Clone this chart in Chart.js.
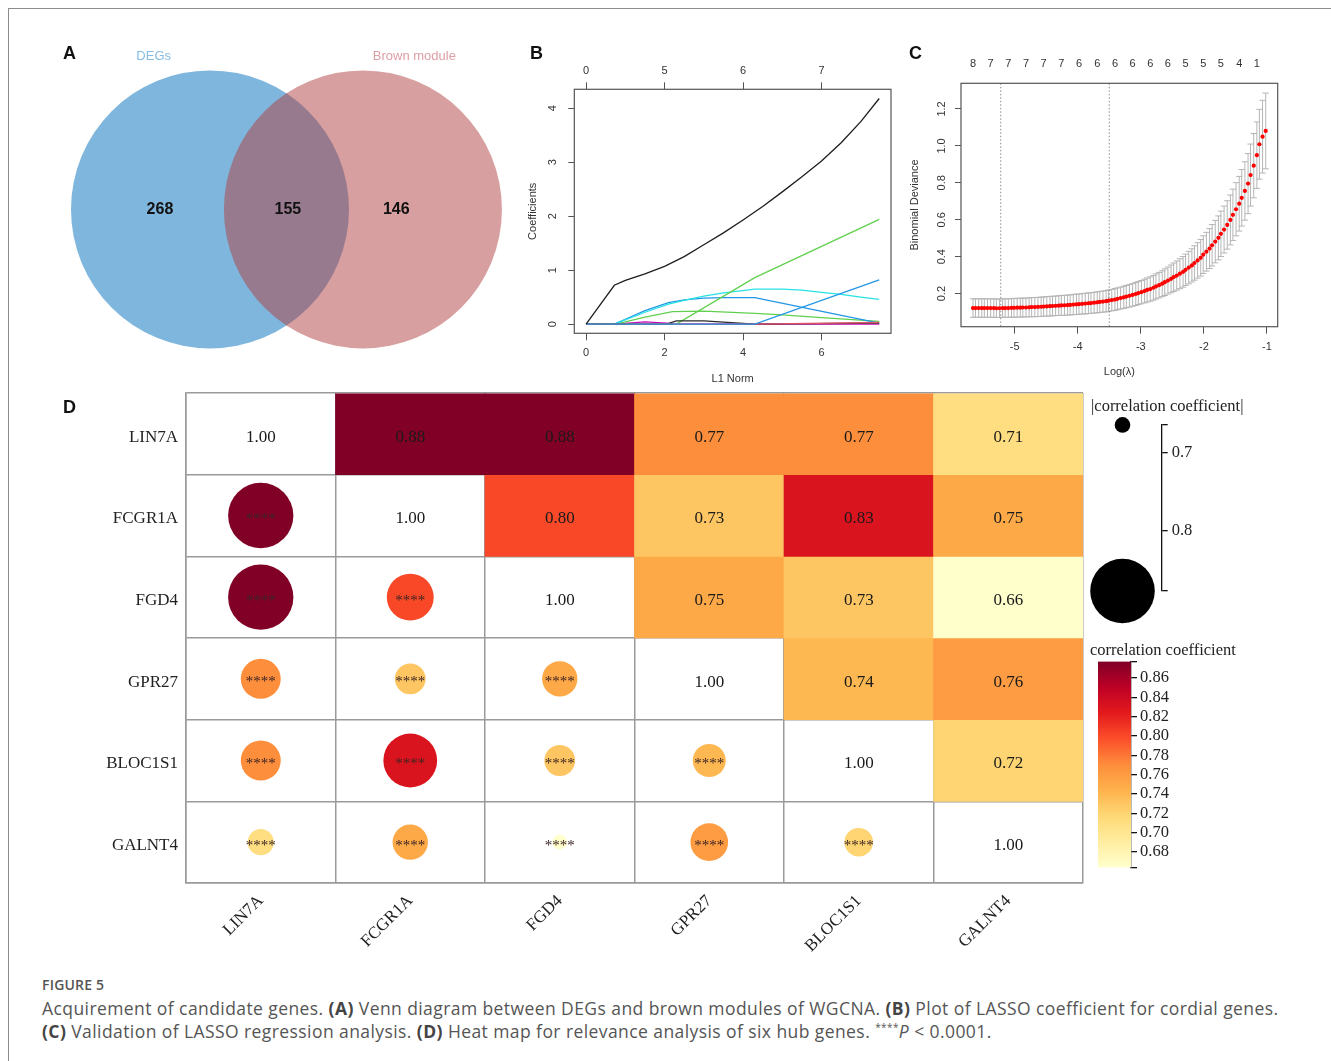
<!DOCTYPE html>
<html>
<head>
<meta charset="utf-8">
<title>Figure 5</title>
<script src="https://cdn.jsdelivr.net/npm/chart.js@4.4.1/dist/chart.umd.min.js"></script>
<style>
  html, body { margin: 0; padding: 0; background: #fff; }
  #page { position: relative; width: 1331px; height: 1061px; overflow: hidden; background: #fff; }
  .frame { position: absolute; left: 8px; top: 8px; width: 1400px; height: 1100px;
           border-top: 1.5px solid #8d8d8d; border-left: 1.5px solid #8d8d8d; }
  canvas { position: absolute; }
  .panel { position: absolute; font-family: 'Liberation Sans', Arial, sans-serif; font-weight: bold;
           font-size: 18px; line-height: 22px; color: #111; }
  .key { position: absolute; font-family: 'Liberation Serif', 'Times New Roman', serif; font-size: 16.5px;
         line-height: 20px; color: #222; white-space: nowrap; }
  .cap { position: absolute; left: 42px; font-family: 'Open Sans', 'Noto Sans', sans-serif; color: #555;
         white-space: nowrap; }
  .cap b { color: #444; font-weight: 700; }
  .cap sup { font-size: 10px; line-height: 0; }
</style>
</head>
<body>
<div id="page">
  <div class="frame"></div>

  <canvas id="venn" width="480" height="340" style="left:40px;top:40px;"></canvas>
  <canvas id="lasso" width="400" height="360" style="left:505px;top:40px;"></canvas>
  <canvas id="cv" width="420" height="360" style="left:900px;top:40px;"></canvas>
  <canvas id="heat" width="1030" height="580" style="left:60px;top:385px;"></canvas>
  <canvas id="sizeKey" width="170" height="240" style="left:1080px;top:400px;"></canvas>
  <canvas id="colourKey" width="120" height="235" style="left:1088px;top:650px;"></canvas>

  <div class="panel" style="left:63px;top:42px;">A</div>
  <div class="panel" style="left:530px;top:42px;">B</div>
  <div class="panel" style="left:909px;top:42px;">C</div>
  <div class="panel" style="left:63px;top:396px;">D</div>

  <div class="key" style="left:1091px;top:396px;">|correlation coefficient|</div>
  <div class="key" style="left:1090px;top:640px;">correlation coefficient</div>

  <div class="cap" style="top:976px;font-size:14px;line-height:18px;font-weight:600;letter-spacing:0.2px;">FIGURE 5</div>
  <div class="cap" style="top:997px;font-size:17.5px;line-height:22px;letter-spacing:0.42px;">Acquirement of candidate genes. <b>(A)</b> Venn diagram between DEGs and brown modules of WGCNA. <b>(B)</b> Plot of LASSO coefficient for cordial genes.</div>
  <div class="cap" style="top:1020px;font-size:17.5px;line-height:22px;letter-spacing:0.42px;"><b>(C)</b> Validation of LASSO regression analysis. <b>(D)</b> Heat map for relevance analysis of six hub genes. <sup>****</sup><i>P</i> &lt; 0.0001.</div>
</div>

<script>
// ---------------------------------------------------------------- data
// (A) Venn diagram
const vennSets = ['DEGs', 'Brown module'];
const vennCounts = [268, 155, 146];            // DEGs only, shared, Brown module only

// (B) LASSO coefficient paths against L1 norm
const l1Ticks = [0, 2, 4, 6];
const dfTop = ['0', '5', '6', '7'];
const coefTicks = [0, 1, 2, 3, 4];
const path1X = [0, 0.72, 1.0, 1.5, 2.0, 2.5, 3.0, 3.5, 4.0, 4.5, 5.0, 5.5, 6.0, 6.5, 7.0, 7.47];
const path1Y = [0, 0.72, 0.81, 0.93, 1.07, 1.25, 1.47, 1.69, 1.93, 2.18, 2.45, 2.73, 3.02, 3.36, 3.75, 4.18];
const path2X = [0, 2.3, 4.3, 7.47];
const path2Y = [0, 0, 0.86, 1.94];
const path3X = [0, 0.72, 1.0, 1.5, 2.1, 2.5, 3.0, 3.5, 4.3, 5.0, 5.5, 6.0, 6.5, 7.0, 7.47];
const path3Y = [0, 0, 0.08, 0.22, 0.37, 0.44, 0.52, 0.58, 0.65, 0.65, 0.63, 0.59, 0.55, 0.50, 0.46];
const path4X = [0, 0.72, 1.0, 1.5, 2.1, 2.5, 3.0, 3.5, 4.3, 7.47];
const path4Y = [0, 0, 0.09, 0.25, 0.40, 0.45, 0.48, 0.49, 0.49, 0.02];
const path5X = [0, 4.3, 7.47];
const path5Y = [0, 0, 0.82];
const path6X = [0, 0.72, 1.0, 1.5, 2.2, 3.0, 4.3, 5.0, 6.0, 7.47];
const path6Y = [0, 0, 0.04, 0.13, 0.23, 0.24, 0.20, 0.17, 0.12, 0.05];
const path7X = [0, 2.05, 2.3, 3.0, 4.3, 7.47];
const path7Y = [0, 0, 0.06, 0.06, 0.0, 0.02];
const path8X = [0, 0.72, 1.5, 2.05, 2.3, 7.47];
const path8Y = [0, 0, 0.04, 0.02, 0, 0];
const path9X = [0, 4.3, 7.47];
const path9Y = [0, 0, 0.03];

// (C) cross-validated binomial deviance
const logLambda = [
  -5.66,-5.62,-5.57,-5.52,-5.48,-5.43,-5.38,-5.33,-5.29,-5.24,
  -5.19,-5.15,-5.10,-5.05,-5.01,-4.96,-4.91,-4.87,-4.82,-4.77,
  -4.73,-4.68,-4.63,-4.58,-4.54,-4.49,-4.44,-4.40,-4.35,-4.30,
  -4.26,-4.21,-4.16,-4.12,-4.07,-4.02,-3.98,-3.93,-3.88,-3.83,
  -3.79,-3.74,-3.69,-3.65,-3.60,-3.55,-3.51,-3.46,-3.41,-3.37,
  -3.32,-3.27,-3.23,-3.18,-3.13,-3.08,-3.04,-2.99,-2.94,-2.90,
  -2.85,-2.80,-2.76,-2.71,-2.66,-2.62,-2.57,-2.52,-2.48,-2.43,
  -2.38,-2.33,-2.29,-2.24,-2.19,-2.15,-2.10,-2.05,-2.01,-1.96,
  -1.91,-1.87,-1.82,-1.77,-1.73,-1.68,-1.63,-1.58,-1.54,-1.49,
  -1.44,-1.40,-1.35,-1.30,-1.26,-1.21,-1.16,-1.12,-1.07,-1.02];
const cvMean = [
  0.122,0.122,0.122,0.122,0.122,0.122,0.122,0.122,0.121,0.121,
  0.122,0.122,0.122,0.123,0.123,0.124,0.124,0.125,0.125,0.126,
  0.127,0.127,0.128,0.129,0.130,0.131,0.132,0.133,0.134,0.135,
  0.136,0.137,0.138,0.139,0.141,0.142,0.143,0.145,0.146,0.148,
  0.149,0.151,0.153,0.155,0.157,0.159,0.162,0.165,0.168,0.172,
  0.176,0.180,0.184,0.188,0.193,0.198,0.203,0.208,0.214,0.220,
  0.225,0.232,0.239,0.246,0.254,0.262,0.271,0.280,0.289,0.298,
  0.308,0.318,0.329,0.341,0.353,0.366,0.380,0.394,0.411,0.427,
  0.444,0.462,0.482,0.502,0.524,0.547,0.572,0.599,0.627,0.657,
  0.687,0.719,0.756,0.796,0.842,0.893,0.950,1.009,1.050,1.081];
const cvSe = [
  0.050,0.050,0.050,0.050,0.050,0.050,0.050,0.050,0.050,0.050,
  0.050,0.050,0.050,0.050,0.051,0.051,0.051,0.051,0.051,0.051,
  0.052,0.052,0.052,0.052,0.052,0.053,0.053,0.053,0.053,0.053,
  0.054,0.054,0.054,0.054,0.055,0.055,0.055,0.055,0.056,0.056,
  0.056,0.056,0.057,0.057,0.057,0.058,0.058,0.058,0.059,0.059,
  0.059,0.060,0.060,0.061,0.061,0.062,0.062,0.063,0.064,0.065,
  0.066,0.067,0.068,0.069,0.070,0.072,0.073,0.075,0.077,0.079,
  0.081,0.083,0.085,0.088,0.090,0.093,0.096,0.099,0.102,0.105,
  0.108,0.112,0.115,0.119,0.123,0.127,0.131,0.135,0.139,0.144,
  0.148,0.153,0.158,0.163,0.168,0.174,0.180,0.189,0.197,0.205];
const cvXTicks = [-5, -4, -3, -2, -1];
const cvYTicks = [0.2, 0.4, 0.6, 0.8, 1.0, 1.2];
const cvDfAt = [-5.66,-5.38,-5.10,-4.82,-4.54,-4.26,-3.98,-3.69,-3.41,-3.13,-2.85,-2.57,-2.29,-2.01,-1.73,-1.44,-1.16];
const cvDfLabels = ['8','7','7','7','7','7','6','6','6','6','6','6','5','5','5','4','1'];
const lambdaMinLog = -5.22;
const lambda1seLog = -3.50;

// (D) correlation among the six hub genes
const genes = ['LIN7A', 'FCGR1A', 'FGD4', 'GPR27', 'BLOC1S1', 'GALNT4'];
const corLIN7A   = [1.00, 0.88, 0.88, 0.77, 0.77, 0.71];
const corFCGR1A  = [0.88, 1.00, 0.80, 0.73, 0.83, 0.75];
const corFGD4    = [0.88, 0.80, 1.00, 0.75, 0.73, 0.66];
const corGPR27   = [0.77, 0.73, 0.75, 1.00, 0.74, 0.76];
const corBLOC1S1 = [0.77, 0.83, 0.73, 0.74, 1.00, 0.72];
const corGALNT4  = [0.71, 0.75, 0.66, 0.76, 0.72, 1.00];
const sigMark = '****';
const corLimits = [0.664, 0.877];
const sizeKeyTicks = [0.7, 0.8];
const colourKeyTicks = [0.68, 0.70, 0.72, 0.74, 0.76, 0.78, 0.80, 0.82, 0.84, 0.86];

// ---------------------------------------------------------------- shared setup
const SANS = "'Liberation Sans', Arial, sans-serif";
const SERIF = "'Liberation Serif', 'Times New Roman', serif";
Chart.defaults.animation = false;
Chart.defaults.events = [];
Chart.defaults.plugins.legend.display = false;
Chart.defaults.plugins.tooltip.enabled = false;
Chart.defaults.font.family = SANS;
Chart.defaults.color = '#333';
Chart.defaults.layout.autoPadding = false;

const fixedTicks = values => scale => { scale.ticks = values.map(v => ({ value: v })); };
// pin an axis to a fixed thickness and stop it from asking for extra room
const pinAxis = (dim, size) => s => {
  s[dim] = size;
  s.paddingLeft = s.paddingRight = s.paddingTop = s.paddingBottom = 0;
};

// R-style frame around the plot region plus y labels written along the axis
const rBox = {
  id: 'rBox',
  afterDraw(chart, args, o) {
    const { ctx, chartArea: a } = chart;
    const ys = chart.scales.y;
    ctx.save();
    ctx.strokeStyle = '#555';
    ctx.lineWidth = 1.2;
    ctx.strokeRect(a.left, a.top, a.right - a.left, a.bottom - a.top);
    ctx.fillStyle = '#333';
    ctx.font = `11px ${SANS}`;
    ctx.textAlign = 'center';
    ctx.textBaseline = 'middle';
    ys.ticks.forEach(t => {
      ctx.save();
      ctx.translate(a.left - o.gap, ys.getPixelForValue(t.value));
      ctx.rotate(-Math.PI / 2);
      ctx.fillText(t.value.toFixed(o.decimals), 0, 0);
      ctx.restore();
    });
    ctx.restore();
  }
};

// ---------------------------------------------------------------- (A) Venn
const vennFill = ['rgba(0,110,188,0.5)', 'rgba(178,64,66,0.5)'];
const vennInk = ['#86bde4', '#dd9ea4'];
// two equal circles; offsets below are in units of the circle radius
const VENN = { half: 0.55, countX: [-0.91, 0.01, 0.79], nameX: [-0.955, 0.92], nameY: 1.104 };
// each set is a disc of unit radius around its point, filled half-transparent
const vennDiscs = {
  id: 'vennDiscs',
  afterDatasetsDraw(chart) {
    const { ctx, scales: { x, y } } = chart;
    const r = x.getPixelForValue(1) - x.getPixelForValue(0);
    ctx.save();
    chart.data.datasets.forEach((ds, i) => {
      chart.getDatasetMeta(i).data.forEach(pt => {
        ctx.beginPath();
        ctx.arc(pt.x, pt.y, r, 0, Math.PI * 2);
        ctx.fillStyle = ds.backgroundColor;
        ctx.fill();
      });
    });
    ctx.textAlign = 'center';
    ctx.textBaseline = 'middle';
    ctx.font = `bold 16px ${SANS}`;
    ctx.fillStyle = '#111';
    vennCounts.forEach((n, i) => ctx.fillText(String(n), x.getPixelForValue(VENN.countX[i]), y.getPixelForValue(0)));
    ctx.font = `13px ${SANS}`;
    vennSets.forEach((s, i) => {
      ctx.fillStyle = vennInk[i];
      ctx.fillText(s, x.getPixelForValue(VENN.nameX[i]), y.getPixelForValue(VENN.nameY));
    });
    ctx.restore();
  }
};
new Chart(document.getElementById('venn'), {
  type: 'scatter',
  data: {
    datasets: [
      { label: vennSets[0], data: [{ x: -VENN.half, y: 0 }], backgroundColor: vennFill[0], pointRadius: 0 },
      { label: vennSets[1], data: [{ x: VENN.half, y: 0 }], backgroundColor: vennFill[1], pointRadius: 0 }
    ]
  },
  options: {
    responsive: false,
    layout: { padding: 0 },
    scales: {
      x: { type: 'linear', display: false, min: -1.773, max: 1.680 },
      y: { type: 'linear', display: false, min: -1.227, max: 1.219 }
    }
  },
  plugins: [vennDiscs]
});

// ---------------------------------------------------------------- (B) LASSO paths
// listed top layer first (Chart.js paints the first dataset last)
const coefPaths = [
  { x: path1X, y: path1Y, colour: '#1e1e1e' },
  { x: path5X, y: path5Y, colour: '#2297E6' },
  { x: path9X, y: path9Y, colour: '#DF536B' },
  { x: path7X, y: path7Y, colour: '#2a2a2a' },
  { x: path2X, y: path2Y, colour: '#61D04F' },
  { x: path3X, y: path3Y, colour: '#28E2E5' },
  { x: path4X, y: path4Y, colour: '#2297E6' },
  { x: path6X, y: path6Y, colour: '#61D04F' },
  { x: path8X, y: path8Y, colour: '#CD0BBC' }
];
const axisFont = { family: SANS, size: 11 };
new Chart(document.getElementById('lasso'), {
  type: 'scatter',
  data: {
    datasets: coefPaths.map(p => ({
      data: p.x.map((x, i) => ({ x, y: p.y[i] })),
      showLine: true, borderColor: p.colour, borderWidth: 1.3,
      pointRadius: 0, tension: 0, fill: false
    }))
  },
  options: {
    responsive: false,
    layout: { padding: { left: 0, top: 0, right: 14, bottom: 0 } },
    scales: {
      x: {
        type: 'linear', position: 'bottom', min: -0.3, max: 7.77,
        afterBuildTicks: fixedTicks(l1Ticks),
        grid: { drawOnChartArea: false, color: '#555', tickLength: 7 },
        border: { display: false },
        ticks: { font: axisFont, color: '#333', padding: 5.8 },
        title: { display: true, text: 'L1 Norm', font: axisFont, color: '#333', padding: { top: 0, bottom: 14.1 } },
        afterFit: pinAxis('height', 66.7)
      },
      xTop: {
        type: 'linear', position: 'top', min: -0.3, max: 7.77,
        afterBuildTicks: fixedTicks(l1Ticks),
        grid: { drawOnChartArea: false, color: '#555', tickLength: 7 },
        border: { display: false },
        ticks: { font: axisFont, color: '#333', padding: 5, callback: (v, i) => dfTop[i] },
        afterFit: pinAxis('height', 49.3)
      },
      y: {
        type: 'linear', position: 'left', min: -0.17, max: 4.35,
        afterBuildTicks: fixedTicks(coefTicks),
        grid: { drawOnChartArea: false, color: '#555', tickLength: 6 },
        border: { display: false },
        ticks: { display: false },
        title: { display: true, text: 'Coefficients', font: axisFont, color: '#333', padding: { top: 21.1, bottom: 0 } },
        afterFit: pinAxis('width', 69.3)
      }
    },
    plugins: { rBox: { gap: 21, decimals: 0 } }
  },
  plugins: [rBox]
});

// ---------------------------------------------------------------- (C) CV deviance
const capHalf = 0.05;   // half width of the error-bar caps, in log(lambda) units
const cvBars = {
  id: 'cvBars',
  beforeDatasetsDraw(chart) {
    const { ctx, chartArea: a, scales: { x, y } } = chart;
    const hw = x.getPixelForValue(capHalf) - x.getPixelForValue(0);
    ctx.save();
    ctx.strokeStyle = '#b5b5b5';
    ctx.lineWidth = 1;
    logLambda.forEach((lx, i) => {
      const px = x.getPixelForValue(lx);
      const lo = y.getPixelForValue(cvMean[i] - cvSe[i]);
      const hi = y.getPixelForValue(cvMean[i] + cvSe[i]);
      ctx.beginPath();
      ctx.moveTo(px, lo); ctx.lineTo(px, hi);
      ctx.moveTo(px - hw, lo); ctx.lineTo(px + hw, lo);
      ctx.moveTo(px - hw, hi); ctx.lineTo(px + hw, hi);
      ctx.stroke();
    });
    ctx.strokeStyle = '#8a8a8a';
    ctx.setLineDash([1.5, 2]);
    [lambdaMinLog, lambda1seLog].forEach(v => {
      const px = x.getPixelForValue(v);
      ctx.beginPath(); ctx.moveTo(px, a.top); ctx.lineTo(px, a.bottom); ctx.stroke();
    });
    ctx.restore();
  }
};
new Chart(document.getElementById('cv'), {
  type: 'scatter',
  data: {
    datasets: [{
      data: logLambda.map((x, i) => ({ x, y: cvMean[i] })),
      pointRadius: 2.1, backgroundColor: '#ff0000', borderWidth: 0
    }]
  },
  options: {
    responsive: false,
    layout: { padding: { left: 0, top: 0, right: 42.3, bottom: 0 } },
    scales: {
      x: {
        type: 'linear', position: 'bottom', min: -5.85, max: -0.83,
        afterBuildTicks: fixedTicks(cvXTicks),
        grid: { drawOnChartArea: false, color: '#555', tickLength: 7 },
        border: { display: false },
        ticks: { font: axisFont, color: '#333', padding: 7 },
        title: { display: true, text: 'Log(λ)', font: axisFont, color: '#333', padding: { top: 0, bottom: 21.7 } },
        afterFit: pinAxis('height', 73.3)
      },
      xTop: {
        type: 'linear', position: 'top', min: -5.85, max: -0.83,
        afterBuildTicks: fixedTicks(cvDfAt),
        grid: { drawOnChartArea: false, drawTicks: false },
        border: { display: false },
        ticks: { font: axisFont, color: '#333', padding: 12.4, autoSkip: false, callback: (v, i) => cvDfLabels[i] },
        afterFit: pinAxis('height', 43.3)
      },
      y: {
        type: 'linear', position: 'left', min: 0.021, max: 1.339,
        afterBuildTicks: fixedTicks(cvYTicks),
        grid: { drawOnChartArea: false, color: '#555', tickLength: 6 },
        border: { display: false },
        ticks: { display: false },
        title: { display: true, text: 'Binomial Deviance', font: axisFont, color: '#333', padding: { top: 8.4, bottom: 0 } },
        afterFit: pinAxis('width', 61)
      }
    },
    plugins: { rBox: { gap: 19.3, decimals: 1 } }
  },
  plugins: [rBox, cvBars]
});

// ---------------------------------------------------------------- (D) correlation heat map
const ylOrRd = ['#ffffcc', '#ffeda0', '#fed976', '#feb24c', '#fd8d3c', '#fc4e2a', '#e31a1c', '#bd0026', '#800026'];
const hexRgb = h => [1, 3, 5].map(k => parseInt(h.slice(k, k + 2), 16));
function corColour(v) {
  let t = (v - corLimits[0]) / (corLimits[1] - corLimits[0]);
  t = Math.max(0, Math.min(1, t));
  const p = t * 8, i = Math.min(7, Math.floor(p)), f = p - i;
  const a = hexRgb(ylOrRd[i]), b = hexRgb(ylOrRd[i + 1]);
  return `rgb(${a.map((c, k) => Math.round(c + (b[k] - c) * f)).join(',')})`;
}
const corSize = v => 7.8 + (v - corLimits[0]) * 115;   // circle radius in px

const corRows = [corLIN7A, corFCGR1A, corFGD4, corGPR27, corBLOC1S1, corGALNT4];
const cellBars = corRows.map((row, r) => ({
  type: 'bar',
  label: genes[r],
  data: genes.map((g, c) => (c > r ? [r, r + 1] : null)),
  backgroundColor: ctx => corColour(row[ctx.dataIndex] ?? 1),
  grouped: false, barPercentage: 1, categoryPercentage: 1, borderWidth: 0
}));
const circleData = [];
corRows.forEach((row, r) => row.forEach((v, c) => { if (c < r) circleData.push({ x: genes[c], y: r + 0.5, v }); }));
const cellCircles = {
  type: 'bubble',
  data: circleData,
  radius: ctx => (ctx.raw ? corSize(ctx.raw.v) : 0),
  backgroundColor: ctx => (ctx.raw ? corColour(ctx.raw.v) : '#fff'),
  borderWidth: 0
};
const textDrop = 3.5;   // serif digits sit a little low in their cells
const cellText = {
  id: 'cellText',
  afterDatasetsDraw(chart) {
    const { ctx, scales: { x, y } } = chart;
    ctx.save();
    ctx.textAlign = 'center';
    corRows.forEach((row, r) => row.forEach((v, c) => {
      const px = x.getPixelForValue(c), py = y.getPixelForValue(r + 0.5);
      if (c < r) {
        ctx.font = `15px ${SERIF}`;
        ctx.fillStyle = '#3a2424';
        ctx.textBaseline = 'alphabetic';
        ctx.fillText(sigMark, px, py + 7.5);
      } else {
        ctx.font = `17px ${SERIF}`;
        ctx.fillStyle = '#1a1a1a';
        ctx.textBaseline = 'middle';
        ctx.fillText(v.toFixed(2), px, py + textDrop);
      }
    }));
    ctx.restore();
  }
};
const gridGrey = '#9a9a9a';
new Chart(document.getElementById('heat'), {
  type: 'bar',
  data: { labels: genes, datasets: [...cellBars, cellCircles] },
  options: {
    responsive: false,
    layout: { padding: { left: 0, top: 8, right: 7, bottom: 0 } },
    scales: {
      x: {
        type: 'category', offset: true, z: 1,
        grid: { offset: true, color: gridGrey, lineWidth: 1.5, drawTicks: false },
        border: { color: gridGrey, width: 1.5 },
        ticks: { font: { family: SERIF, size: 17 }, color: '#222', minRotation: 45, maxRotation: 45, padding: 8, autoSkip: false },
        afterFit: pinAxis('height', 82)
      },
      y: {
        type: 'linear', reverse: true, min: 0, max: 6, z: 1,
        afterBuildTicks: fixedTicks([0, 1, 2, 3, 4, 5, 6]),
        grid: { color: gridGrey, lineWidth: 1.5, drawTicks: false },
        border: { color: gridGrey, width: 1.5 },
        ticks: { font: { family: SERIF, size: 17 }, color: '#222', padding: 8, labelOffset: 40.8 + textDrop, autoSkip: false,
                 callback: (v, i) => genes[i] ?? '' },
        afterFit: pinAxis('width', 126)
      }
    }
  },
  plugins: [cellText]
});

// size key for |r|
const keyAxis = (ticks, fmt, width, pad) => ({
  type: 'linear', position: 'right', min: corLimits[0], max: corLimits[1],
  afterBuildTicks: fixedTicks([corLimits[0], ...ticks, corLimits[1]]),
  grid: { drawOnChartArea: false, color: '#111', lineWidth: 1.3, tickLength: 6 },
  border: { color: '#111', width: 1.3 },
  ticks: { font: { family: SERIF, size: 16.5 }, color: '#222', padding: pad, autoSkip: false,
           callback: v => (ticks.includes(v) ? v.toFixed(fmt) : '') },
  afterFit: pinAxis('width', width)
});
new Chart(document.getElementById('sizeKey'), {
  type: 'bubble',
  data: {
    datasets: [{
      data: corLimits.map(v => ({ x: 0, y: v, v })),
      radius: ctx => (ctx.raw ? corSize(ctx.raw.v) : 0),
      backgroundColor: '#000', borderWidth: 0, clip: false
    }]
  },
  options: {
    responsive: false,
    layout: { padding: { left: 3.3, top: 24.9, right: 0, bottom: 49 } },
    scales: {
      x: { type: 'linear', display: false, min: -1, max: 1 },
      y: Object.assign(keyAxis(sizeKeyTicks, 1, 88.3, 4), { reverse: true })
    }
  }
});

// colour bar for r
const colourbarFill = ctx => {
  const chart = ctx.chart;
  if (!chart.chartArea) return ylOrRd[4];
  const y = chart.scales.y;
  const g = chart.ctx.createLinearGradient(0, y.getPixelForValue(corLimits[0]), 0, y.getPixelForValue(corLimits[1]));
  ylOrRd.forEach((c, i) => g.addColorStop(i / 8, c));
  return g;
};
new Chart(document.getElementById('colourKey'), {
  type: 'bar',
  data: {
    labels: [''],
    datasets: [{ data: [corLimits], backgroundColor: colourbarFill, barPercentage: 1, categoryPercentage: 1, borderWidth: 0 }]
  },
  options: {
    responsive: false,
    layout: { padding: { left: 10, top: 11.5, right: 0, bottom: 17.5 } },
    scales: {
      x: { display: false },
      y: keyAxis(colourKeyTicks, 2, 77, 3)
    }
  }
});
</script>
</body>
</html>
